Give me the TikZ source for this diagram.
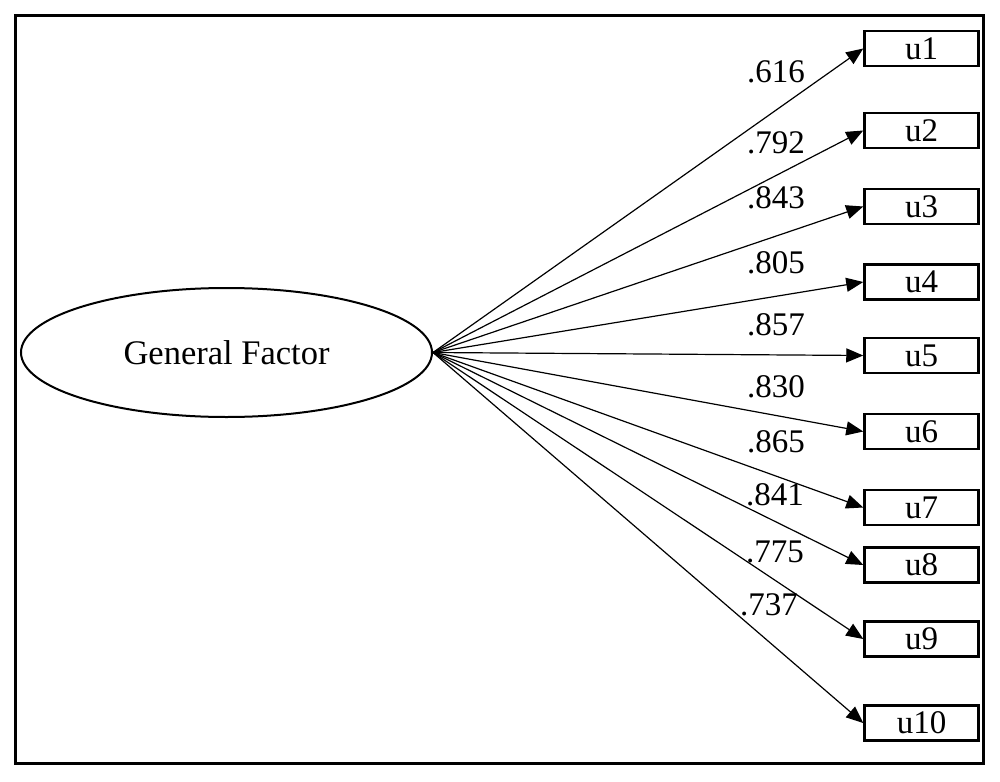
\documentclass[tikz,border=0pt]{standalone}
\usepackage{fontspec}
\setmainfont{Liberation Serif}
\usetikzlibrary{arrows.meta,shapes.geometric}
\begin{document}
\begin{tikzpicture}[x=1pt,y=-1pt,
  obsbox/.style={draw,line width=2.5pt,minimum width=114pt,minimum height=35pt,inner sep=0pt,font=\fontsize{33}{33}\selectfont},
  latent/.style={draw,ellipse,line width=2pt,minimum width=411pt,minimum height=129pt,inner sep=0pt,font=\fontsize{34.5}{34.5}\selectfont},
  path/.style={line width=1.2pt,-{Triangle[length=17pt,width=14pt]}},
  load/.style={font=\fontsize{33}{33}\selectfont,inner sep=0pt}]
\useasboundingbox (0,0) rectangle (1000,781);
\draw[line width=3pt] (15,16) rectangle (983,763);
\node[latent] (gf) at (226.5,352.5) {General Factor};
\foreach \i/\y in {1/48.5,2/130.5,3/206.5,4/282,5/355.5,6/431.5,7/507.5,8/565,9/639,10/723}{
  \node[obsbox] (u\i) at (921.5,\y) {u\i};
  \draw[path] (gf.east) -- (u\i.west);
}
\foreach \v/\x/\y in {.616/776/72,.792/776/143,.843/776/198,.805/776/263,.857/776/325,.830/776/387,.865/776/442,.841/775/495,.775/775/552,.737/769/605}{
  \node[load] at (\x,\y) {\v};
}
\end{tikzpicture}
\end{document}
